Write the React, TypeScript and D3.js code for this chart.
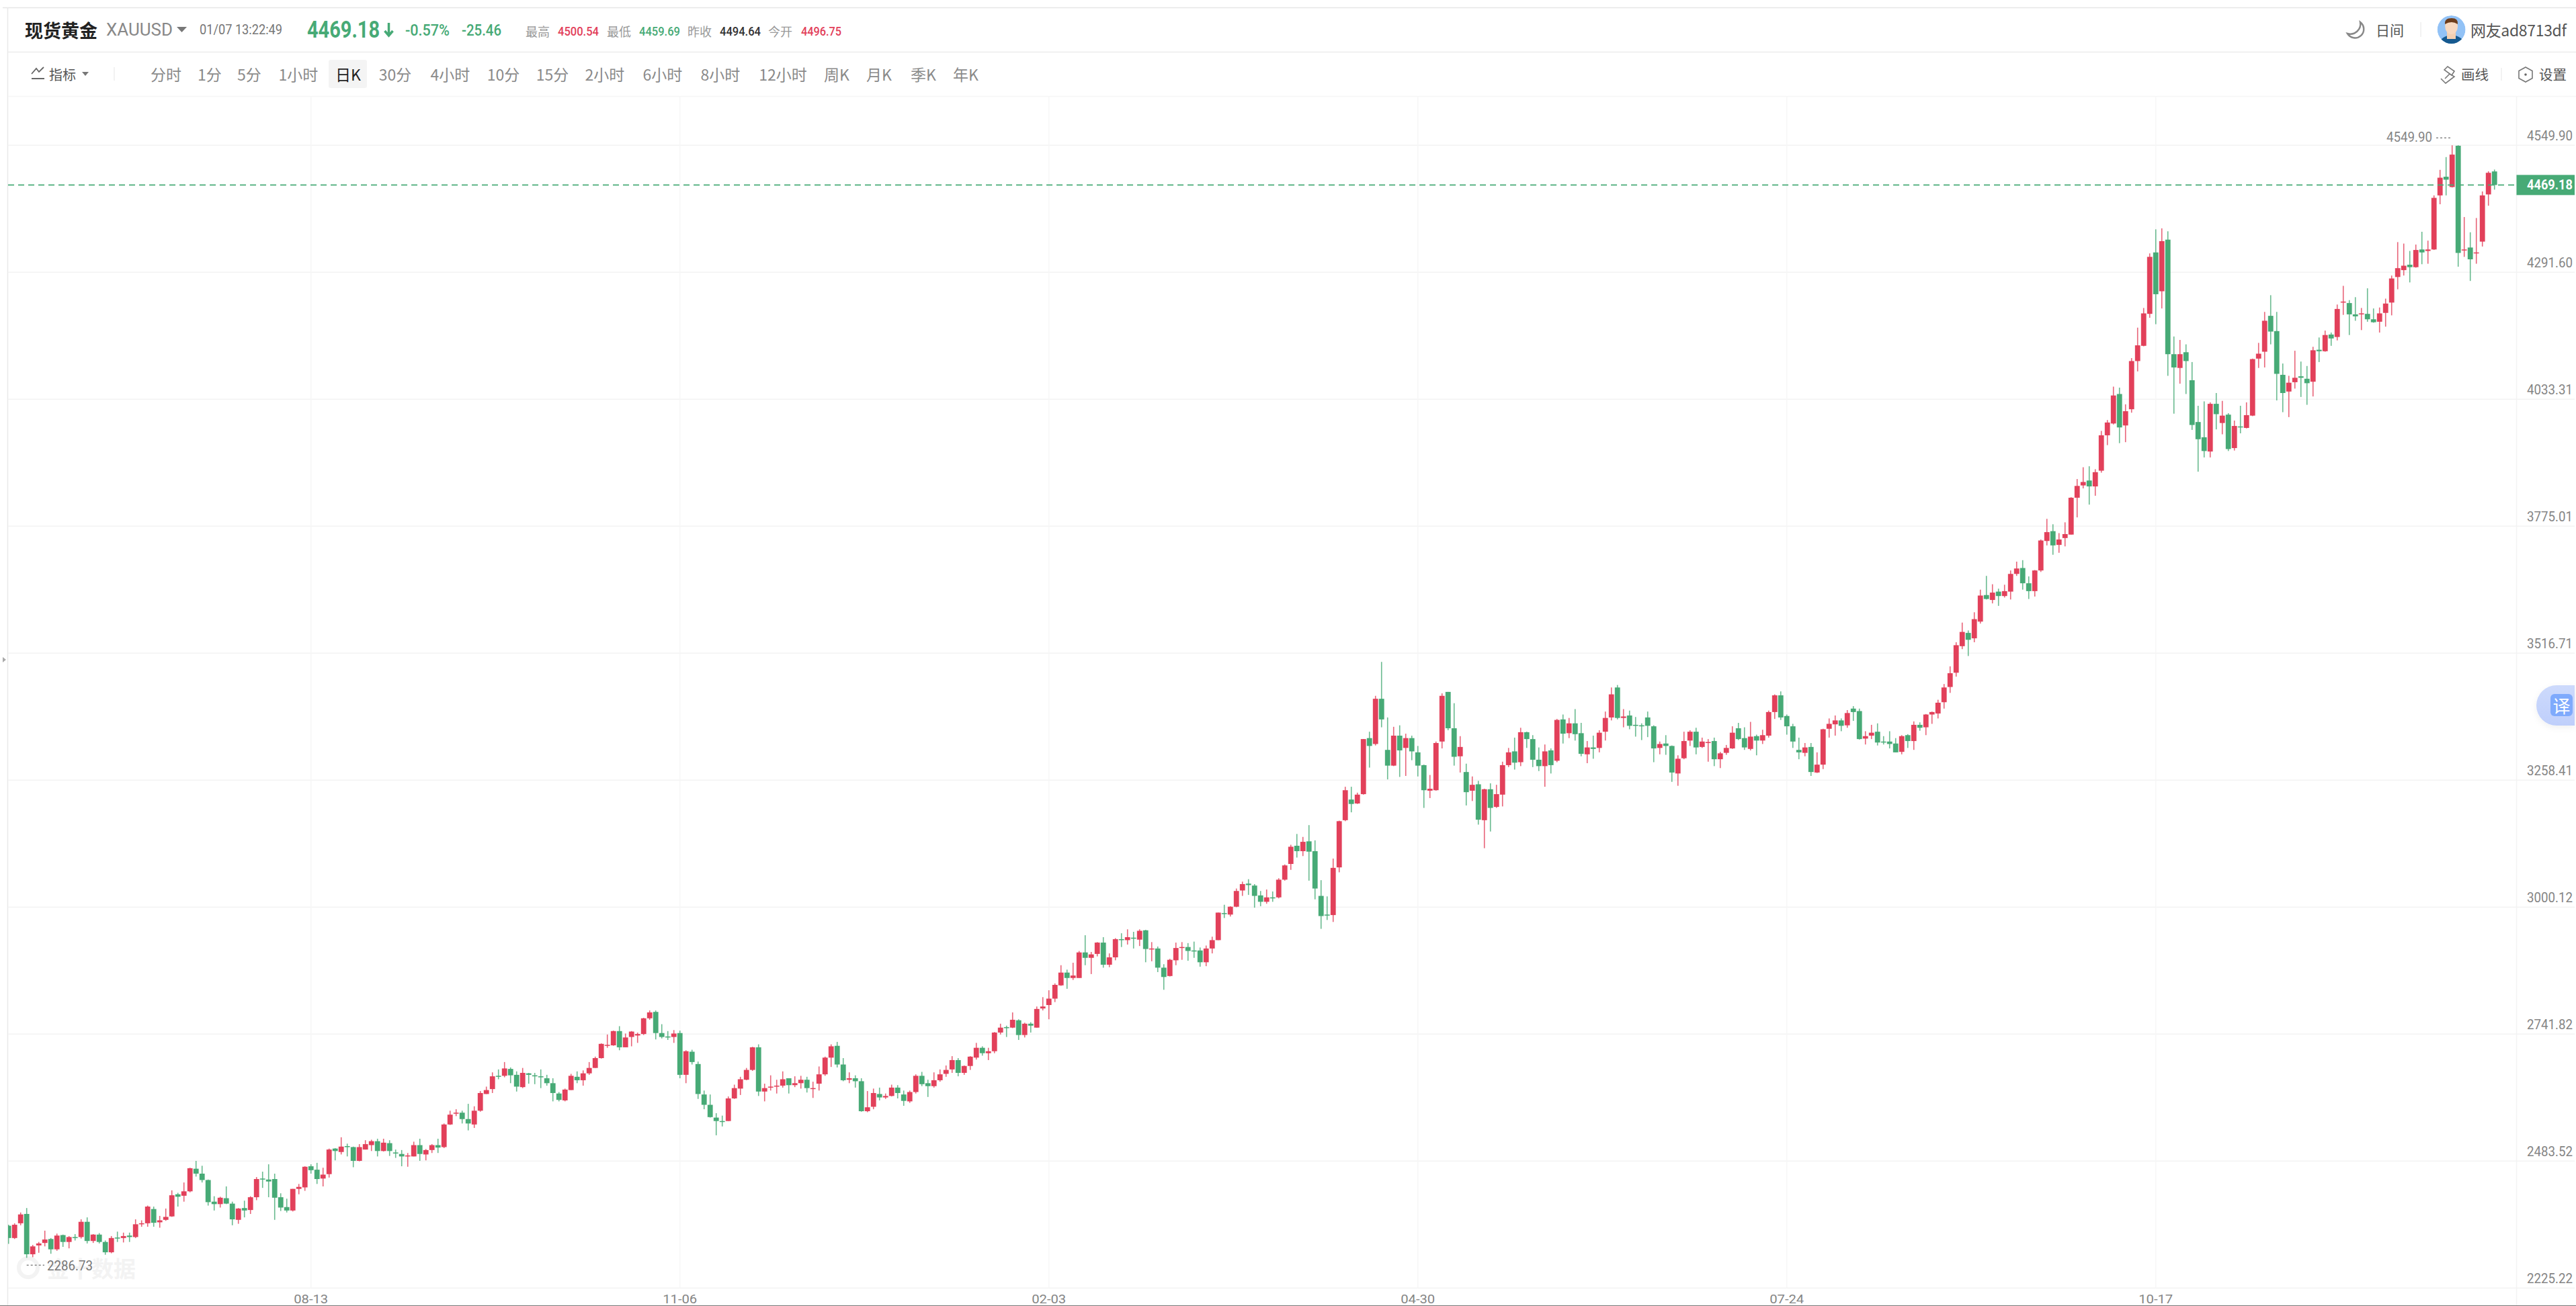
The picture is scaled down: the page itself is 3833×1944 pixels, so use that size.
import React from "react";
import * as d3 from "d3";

type Bar = [number, number, number, number]; // open, high, low, close

const bars2024A: Bar[] = [[2352,2354,2315,2327],[2327,2357,2325,2354],[2357,2379,2353,2375],[2376,2388,2286.73,2294],[2294,2313,2288,2310],[2312,2319,2297,2316],[2317,2342,2310,2324],[2325,2327,2295,2304],[2304,2336,2301,2332],[2333,2334,2309,2319],[2319,2331,2306,2329],[2329,2335,2322,2328],[2329,2365,2326,2360],[2360,2369,2316,2321],[2321,2335,2317,2334],[2334,2337,2316,2319],[2319,2322,2293,2298],[2298,2331,2296,2327],[2328,2340,2319,2327],[2327,2338,2318,2331],[2332,2338,2319,2329],[2329,2365,2327,2355],[2356,2363,2350,2357],[2357,2393,2350,2391],[2386,2391,2350,2358],[2359,2372,2348,2363],[2364,2387,2362,2370],[2371,2424,2370,2414],[2416,2419,2391,2411],[2413,2440,2401,2422],[2422,2470,2420,2469],[2468,2484,2452,2458],[2458,2474,2440,2445],[2445,2446,2393,2400],[2401,2412,2383,2396],[2396,2411,2389,2409],[2408,2432,2396,2397],[2397,2401,2353,2365],[2364,2388,2356,2387],[2388,2403,2369,2383],[2384,2412,2376,2410],[2410,2451,2404,2447],[2448,2462,2429,2447],[2446,2477,2410,2442],[2447,2458,2364,2409],[2410,2418,2382,2389],[2390,2407,2379,2383],[2383,2427,2381,2427],[2427,2437,2416,2431],[2430,2473,2423,2472],[2473,2477,2458,2465],[2466,2480,2437,2447],[2448,2470,2432,2456],[2457,2509,2450,2507],[2509,2510,2485,2504],[2502,2532,2497,2513],[2514,2519,2493,2512],[2512,2513,2471,2484],[2484,2518,2483,2512],[2507,2526,2507,2518],[2516,2527,2504,2524],[2524,2529,2493,2504],[2504,2529,2503,2521],[2520,2526,2494,2504],[2501,2507,2490,2499],[2498,2506,2473,2493],[2493,2500,2472,2495],[2493,2523,2493,2516],[2516,2529,2484,2498],[2497,2508,2485,2506],[2506,2518,2500,2516],[2516,2529,2500,2511],[2512,2560,2510,2558],[2558,2586,2557,2578],[2581,2589,2575,2582],[2582,2586,2560,2569],[2569,2600,2546,2560],[2558,2595,2551,2586],[2586,2626,2584,2622],[2620,2635,2620,2628],[2630,2664,2622,2656],[2657,2670,2650,2656],[2657,2685,2654,2672],[2671,2674,2642,2658],[2659,2666,2625,2635],[2634,2673,2632,2663],[2662,2663,2641,2659],[2658,2663,2640,2657]];

const bars2024B: Bar[] = [[2656,2670,2632,2654],[2652,2659,2637,2642],[2642,2652,2605,2622],[2621,2624,2605,2608],[2607,2631,2605,2629],[2628,2661,2628,2657],[2655,2666,2642,2648],[2648,2668,2637,2662],[2662,2685,2659,2673],[2673,2696,2673,2693],[2693,2723,2692,2722],[2719,2741,2714,2720],[2719,2749,2718,2748],[2748,2758,2709,2715],[2715,2743,2715,2735],[2736,2748,2717,2747],[2739,2745,2724,2742],[2742,2775,2740,2774],[2774,2790,2771,2786],[2787,2790,2731,2744],[2744,2762,2733,2736],[2737,2748,2730,2736],[2736,2750,2724,2743],[2744,2749,2652,2659],[2659,2709,2642,2707],[2706,2710,2680,2685],[2681,2686,2610,2620],[2619,2627,2589,2598],[2598,2619,2572,2573],[2572,2581,2536,2565],[2565,2576,2554,2563],[2565,2615,2565,2611],[2611,2639,2610,2632],[2631,2655,2618,2650],[2649,2673,2648,2669],[2669,2716,2667,2715],[2715,2721,2616,2625],[2625,2641,2605,2632],[2633,2658,2627,2635],[2636,2649,2621,2637],[2637,2666,2633,2650],[2652,2652,2621,2638],[2638,2656,2634,2642],[2642,2657,2631,2649],[2649,2655,2623,2632],[2630,2645,2612,2632],[2641,2676,2627,2660],[2660,2696,2657,2694],[2694,2721,2675,2717],[2718,2726,2674,2680],[2680,2693,2646,2648],[2649,2664,2642,2652],[2652,2658,2633,2646],[2646,2652,2584,2585],[2585,2626,2583,2593],[2594,2631,2589,2622],[2620,2633,2607,2613],[2613,2621,2610,2616],[2616,2639,2615,2633],[2633,2638,2611,2622],[2619,2627,2596,2606],[2605,2627,2602,2624],[2624,2660,2621,2657],[2657,2665,2636,2640],[2642,2649,2614,2636],[2636,2664,2633,2648],[2648,2670,2645,2660],[2661,2678,2655,2669],[2670,2697,2663,2689],[2689,2693,2656,2663],[2663,2678,2659,2677],[2677,2697,2669,2696],[2694,2724,2690,2714],[2714,2717,2698,2703],[2703,2714,2689,2707],[2707,2746,2703,2745],[2745,2763,2741,2755],[2756,2759,2736,2755],[2755,2786,2754,2771],[2770,2772,2730,2740],[2740,2765,2735,2763],[2763,2766,2745,2759],[2755,2798,2755,2793],[2794,2817,2790,2798],[2801,2831,2772,2814],[2814,2845,2807,2842],[2841,2882,2840,2867],[2867,2873,2834,2856],[2856,2887,2852,2861]];

const bars2025A: Bar[] = [[2856,2911,2856,2908],[2908,2943,2882,2897],[2897,2909,2864,2904],[2905,2929,2900,2928],[2928,2939,2877,2883],[2883,2906,2878,2898],[2898,2937,2892,2935],[2935,2947,2919,2933],[2933,2955,2924,2939],[2938,2950,2916,2936],[2934,2955,2921,2952],[2953,2954,2888,2915],[2915,2929,2890,2916],[2916,2920,2868,2877],[2877,2884,2832,2858],[2860,2895,2859,2893],[2892,2928,2882,2917],[2918,2929,2893,2919],[2919,2927,2891,2911],[2912,2930,2897,2911],[2912,2918,2879,2888],[2888,2922,2880,2916],[2916,2940,2906,2933],[2933,2989,2933,2989],[2988,3005,2978,2986],[2985,3002,2981,3001],[3001,3038,3000,3033],[3034,3052,3023,3047],[3048,3057,3025,3045],[3044,3047,2999,3023],[3024,3033,3002,3011],[3011,3036,3007,3020],[3020,3032,3011,3019],[3020,3059,3018,3056],[3056,3087,3054,3085],[3088,3127,3076,3123],[3125,3149,3101,3114],[3114,3143,3104,3133],[3134,3167,3054,3113],[3114,3136,3016,3038],[3023,3055,2956,2982],[2985,3022,2974,2984],[2984,3099,2970,3080],[3081,3176,3071,3175],[3177,3245,3175,3238],[3219,3245,3193,3210],[3211,3233,3210,3229]];

const bars2025B: Bar[] = [[3230,3342,3229,3342],[3344,3357,3284,3328],[3332,3430,3329,3424],[3424,3499,3366,3382],[3320,3386,3260,3288],[3288,3367,3287,3349],[3349,3370,3265,3319],[3324,3353,3267,3344],[3344,3349,3299,3317],[3315,3328,3266,3288],[3289,3290,3202,3238],[3237,3269,3222,3241],[3238,3337,3237,3334],[3337,3435,3323,3430],[3438,3438,3360,3364],[3364,3415,3288,3306],[3307,3348,3274,3326],[3275,3292,3207,3234],[3237,3266,3216,3249],[3250,3257,3168,3178],[3177,3241,3120,3240],[3240,3252,3154,3202],[3204,3249,3202,3230],[3229,3296,3205,3289],[3289,3324,3285,3315],[3317,3345,3280,3294],[3295,3365,3287,3356],[3356,3357,3324,3342],[3342,3350,3285,3300],[3300,3325,3277,3287],[3287,3331,3245,3317],[3319,3323,3272,3289],[3298,3383,3295,3381],[3382,3392,3333,3353],[3354,3385,3344,3374],[3374,3403,3339,3352],[3354,3375,3307,3312],[3311,3338,3293,3325],[3325,3349,3302,3322],[3324,3360,3315,3355],[3357,3398,3339,3385],[3386,3447,3380,3433],[3447,3452,3382,3385],[3385,3403,3366,3388],[3390,3400,3362,3369],[3371,3387,3347,3370],[3370,3374,3340,3369],[3386,3398,3346,3369],[3368,3370,3295,3323],[3324,3337,3311,3332],[3333,3350,3310,3328],[3328,3329,3255,3274],[3272,3309,3247,3302],[3303,3357,3301,3338],[3339,3360,3328,3357],[3357,3365,3311,3325],[3326,3345,3324,3337],[3334,3342,3296,3336],[3338,3345,3287,3301],[3301,3316,3283,3313],[3314,3330,3310,3324],[3323,3368,3322,3355],[3364,3375,3340,3342],[3344,3366,3320,3325],[3322,3377,3319,3347],[3348,3351,3309,3339],[3339,3361,3332,3350],[3349,3400,3345,3397],[3397,3433,3383,3431],[3431,3439,3381,3386],[3389,3392,3351,3368],[3368,3373,3324,3337],[3320,3345,3301,3315],[3314,3334,3307,3325],[3326,3334,3267,3275]];

const bars2025C: Bar[] = [[3274,3315,3273,3290],[3290,3363,3281,3362],[3363,3384,3345,3373],[3372,3390,3349,3380],[3380,3384,3358,3369],[3370,3401,3365,3395],[3404,3409,3379,3397],[3399,3404,3341,3342],[3343,3358,3331,3348],[3349,3371,3342,3355],[3357,3374,3329,3335],[3337,3348,3331,3335],[3337,3358,3323,3332],[3333,3344,3315,3315],[3316,3350,3311,3348],[3350,3352,3324,3338],[3338,3378,3320,3371],[3371,3376,3359,3365],[3366,3393,3350,3392],[3392,3398,3373,3397],[3394,3422,3384,3416],[3417,3454,3404,3447],[3448,3490,3436,3476],[3477,3539,3469,3533],[3531,3579,3525,3560],[3558,3563,3511,3544],[3547,3600,3539,3586],[3581,3646,3577,3634],[3635,3674,3626,3627],[3625,3657,3618,3640],[3642,3648,3613,3633],[3633,3656,3630,3643],[3642,3685,3626,3678],[3678,3703,3674,3689],[3690,3706,3646,3659],[3659,3673,3627,3643],[3643,3686,3632,3685],[3685,3748,3682,3746],[3745,3790,3736,3763],[3765,3779,3717,3736],[3737,3761,3721,3748],[3751,3783,3734,3759],[3758,3834,3758,3833],[3833,3871,3793,3857],[3858,3895,3852,3865],[3868,3897,3819,3856],[3856,3891,3837,3885],[3888,3969,3884,3960],[3960,3991,3940,3986],[3984,4059,3982,4041],[4044,4057,3944,3976],[3980,4023,3946,4009]];

const bars2025D: Bar[] = [[4013,4117,4006,4111],[4111,4179,4090,4143],[4142,4219,4141,4208],[4207,4330,4199,4323],[4332,4379,4186,4247],[4253,4381,4218,4355],[4358,4375,4081,4125],[4125,4161,4004,4098],[4097,4154,4065,4125],[4129,4145,4044,4111],[4072,4109,3971,3981],[3987,4020,3886,3952],[3956,4029,3915,3928],[3927,4027,3915,4024],[4024,4046,3972,4003],[3985,4030,3962,4000],[4002,4005,3928,3932],[3934,3990,3929,3979],[3978,4020,3964,3977],[3975,4027,3974,4001],[4000,4116,3999,4115],[4116,4148,4097,4126],[4130,4211,4098,4193],[4203,4245,4145,4171],[4172,4211,4031,4085],[4083,4106,4007,4046],[4049,4081,3997,4067],[4068,4132,4055,4077],[4080,4110,4038,4077],[4075,4101,4022,4066],[4069,4140,4039,4133],[4134,4159,4109,4131],[4131,4173,4130,4164],[4165,4169,4142,4157],[4160,4226,4153,4217],[4230,4264,4205,4232],[4229,4235,4164,4206],[4206,4241,4193,4202],[4206,4219,4174,4208],[4207,4259,4191,4196],[4196,4218,4189,4190],[4191,4220,4169,4208],[4209,4238,4181,4228],[4230,4285,4204,4279],[4282,4353,4257,4300],[4296,4350,4285,4305],[4307,4335,4271,4302],[4302,4348,4301,4337],[4338,4374,4308,4332],[4335,4356,4309,4338],[4338,4448,4337,4443],[4448,4500,4430,4484],[4486,4526,4448,4480],[4465,4549.9,4464,4531],[4549,4550,4303,4331],[4337,4404,4323,4338],[4342,4373,4274,4318],[4331,4402,4309,4332],[4354,4456,4344,4448],[4450,4497,4427,4494],[4496.75,4500.54,4459.69,4469.18]];

const bars: Bar[] = [...bars2024A, ...bars2024B, ...bars2025A, ...bars2025B, ...bars2025C, ...bars2025D];

const priceTicks = [4549.90, 4291.60, 4033.31, 3775.01, 3516.71, 3258.41, 3000.12, 2741.82, 2483.52, 2225.22];
const dateTicks: [number, string][] = [[50, "08-13"], [111, "11-06"], [172, "02-03"], [233, "04-30"], [294, "07-24"], [355, "10-17"]];
const periods: [string, number][] = [["分时",247],["1分",312],["5分",371],["1小时",444],["日K",518],["30分",588],["4小时",670],["10分",749],["15分",822],["2小时",900],["6小时",986],["8小时",1072],["12小时",1165],["周K",1245],["月K",1308],["季K",1374],["年K",1437]];
const lastPrice = 4469.18;
const maxPrice = 4549.90;
const minPrice = 2286.73;

const RED = "#e2405a";
const GREEN = "#47aa76";
const DIN = "Roboto, 'Noto Sans', sans-serif";
const CJK = "'Noto Sans CJK SC', sans-serif";

const W = 3833, H = 1944;
const x = d3.scaleLinear().domain([0, 411]).range([12.7, 12.7 + 9 * 411]);
const y = d3.scaleLinear().domain([2225.22, 4549.90]).range([1917.3, 216.3]);
const AXIS_X = 3744.5;

const T = (p: any) => {
  const { w, ...rest } = p;
  return <text dominantBaseline="central" fontFamily={DIN} textLength={w} lengthAdjust={w ? "spacingAndGlyphs" : undefined} {...rest} />;
};

export default function App() {
  return (
    <svg width={W} height={H} viewBox={`0 0 ${W} ${H}`} style={{ position: "absolute", left: 0, top: 0, background: "#fff", display: "block" }}>
      <defs>
        <clipPath id="plot"><rect x={12} y={144} width={AXIS_X - 12} height={1800} /></clipPath>
        <clipPath id="avatar"><circle cx={3647.6} cy={44} r={21} /></clipPath>
        <linearGradient id="pill" x1="0" y1="0" x2="0" y2="1"><stop offset="0" stopColor="#cddafc" /><stop offset="1" stopColor="#bfcffb" /></linearGradient>
        <filter id="sh" x="-20%" y="-20%" width="140%" height="140%"><feDropShadow dx="0" dy="3" stdDeviation="5" floodColor="#000" floodOpacity="0.06" /></filter>
      </defs>

      {/* frame */}
      <line x1={4} x2={W} y1={11.5} y2={11.5} stroke="#e6e6e6" strokeWidth={1.5} />
      <line x1={11.5} x2={11.5} y1={11} y2={1943} stroke="#e9e9e9" strokeWidth={1.5} />
      <line x1={12} x2={W} y1={77.5} y2={77.5} stroke="#ececec" strokeWidth={1.5} />
      <line x1={12} x2={W} y1={143.5} y2={143.5} stroke="#f5f5f5" strokeWidth={1.5} />
      <line x1={0} x2={W} y1={1943.5} y2={1943.5} stroke="#777" strokeWidth={1} />
      <polygon points="4,978 9,982 4,986" fill="#aaa" />

      {/* header */}
      <text x={37} y={44} dominantBaseline="central" fontFamily={CJK} fontWeight={700} fontSize={27} fill="#222">现货黄金</text>
      <T x={158} y={44} w={99} fontSize={25} fill="#888">XAUUSD</T>
      <polygon points="263,40 278,40 270.5,48" fill="#777" />
      <T x={297} y={44} w={123} fontSize={20} fill="#777">01/07 13:22:49</T>
      <T x={457} y={44} w={108} fontSize={35} fontWeight={700} fill={GREEN}>4469.18</T>
      <path d="M578.5 34 V52 M572.5 46 L578.5 53 L584.5 46" stroke={GREEN} strokeWidth={3.5} fill="none" />
      <T x={603} y={45} w={66} fontSize={23} fontWeight={500} fill={GREEN}>-0.57%</T>
      <T x={687} y={45} w={59} fontSize={23} fontWeight={500} fill={GREEN}>-25.46</T>
      <text x={782} y={46} dominantBaseline="central" fontFamily={CJK} fontSize={18} fill="#999">最高</text>
      <T x={830} y={46} w={61} fontSize={19} fontWeight={500} fill={RED}>4500.54</T>
      <text x={903} y={46} dominantBaseline="central" fontFamily={CJK} fontSize={18} fill="#999">最低</text>
      <T x={951} y={46} w={61} fontSize={19} fontWeight={500} fill={GREEN}>4459.69</T>
      <text x={1023} y={46} dominantBaseline="central" fontFamily={CJK} fontSize={18} fill="#999">昨收</text>
      <T x={1071} y={46} w={61} fontSize={19} fontWeight={500} fill="#333">4494.64</T>
      <text x={1143} y={46} dominantBaseline="central" fontFamily={CJK} fontSize={18} fill="#999">今开</text>
      <T x={1192} y={46} w={60} fontSize={19} fontWeight={500} fill={RED}>4496.75</T>

      <path d="M3512 33 A13 13 0 1 1 3493 50 A15 15 0 0 0 3512 33 Z" fill="none" stroke="#888" strokeWidth={2.5} />
      <text x={3535} y={44} dominantBaseline="central" fontFamily={CJK} fontSize={21} fill="#555">日间</text>
      <line x1={3602} x2={3602} y1={33} y2={55} stroke="#eee" strokeWidth={1.5} />
      <g clipPath="url(#avatar)">
        <circle cx={3647.6} cy={44} r={21} fill="#92c2f6" />
        <path d="M3629 66 Q3631 54 3648 52 Q3665 54 3667 66 Z" fill="#15598f" />
        <rect x={3641} y={47} width={13} height={11} fill="#f3cfb2" />
        <ellipse cx={3647.6} cy={39} rx={9.5} ry={12} fill="#f7d8c0" />
        <path d="M3638 36 Q3637 27 3648 27 Q3658 27 3657 36 Q3648 30 3638 36 Z" fill="#6d3d1c" />
      </g>
      <text x={3676} y={44} dominantBaseline="central" fontFamily={CJK} fontSize={23} fill="#555" textLength={143} lengthAdjust="spacing">网友ad8713df</text>

      {/* toolbar */}
      <path d="M47 117 H66 M47 110 L54 102 L58 107 L65 100" stroke="#666" strokeWidth={1.8} fill="none" />
      <text x={73} y={110} dominantBaseline="central" fontFamily={CJK} fontSize={20} fill="#555">指标</text>
      <polygon points="122,107 132,107 127,113" fill="#777" />
      <line x1={170} x2={170} y1={100} y2={120} stroke="#eee" strokeWidth={1.5} />
      <rect x={489} y={89} width={57} height={42} rx={3} fill="#f4f4f4" />
      {periods.map(([label, cx]) => (
        <text key={label} x={cx} y={110} textAnchor="middle" dominantBaseline="central" fontFamily={CJK} fontSize={23} fill={label === "日K" ? "#222" : "#8a8a8a"}>{label}</text>
      ))}
      <path d="M3632 117 L3639 124 L3652 114 L3645 110 L3638 117 M3637 104 L3642 99 L3652 106 L3648 112 Z" stroke="#777" strokeWidth={1.6} fill="none" />
      <text x={3662} y={110} dominantBaseline="central" fontFamily={CJK} fontSize={20.5} fill="#555">画线</text>
      <line x1={3722} x2={3722} y1={101} y2={120} stroke="#eee" strokeWidth={1.5} />
      <polygon points="3758,100 3768,105.5 3768,116.5 3758,122 3748,116.5 3748,105.5" fill="none" stroke="#777" strokeWidth={1.6} />
      <circle cx={3758} cy={111} r={1.8} fill="#666" />
      <text x={3778} y={110} dominantBaseline="central" fontFamily={CJK} fontSize={20.5} fill="#555">设置</text>

      {/* watermark */}
      <circle cx={42} cy={1887} r={14} fill="none" stroke="#f3f3f3" strokeWidth={6} />
      <text x={70} y={1887} dominantBaseline="central" fontFamily={CJK} fontWeight={700} fontSize={33} fill="#f3f3f3">金十数据</text>

      {/* grid */}
      {priceTicks.map(p => (
        <line key={p} x1={12} x2={3831} y1={y(p)} y2={y(p)} stroke="#f3f3f3" strokeWidth={1.5} />
      ))}
      {dateTicks.map(([k]) => (
        <line key={k} x1={x(k)} x2={x(k)} y1={144} y2={y(2225.22)} stroke="#f6f6f6" strokeWidth={1.5} />
      ))}
      <line x1={AXIS_X} x2={AXIS_X} y1={144} y2={1943} stroke="#f3f3f3" strokeWidth={1.5} />

      {/* candles */}
      <g clipPath="url(#plot)">
        {bars.map((b, i) => {
          const [o, h, l, c] = b;
          const col = c >= o ? RED : GREEN;
          const top = y(Math.max(o, c));
          const bot = y(Math.min(o, c));
          return (
            <g key={i}>
              <line x1={x(i)} x2={x(i)} y1={y(h)} y2={y(l)} stroke={col} strokeWidth={1.6} opacity={0.82} />
              <rect x={x(i) - 3.9} width={7.8} y={top} height={Math.max(bot - top, 1.5)} fill={col} />
            </g>
          );
        })}
      </g>

      {/* last price */}
      <line x1={12} x2={AXIS_X} y1={y(lastPrice)} y2={y(lastPrice)} stroke={GREEN} strokeWidth={1.6} strokeDasharray="9 6" />
      <rect x={AXIS_X} y={y(lastPrice) - 15} width={3831 - AXIS_X} height={30} fill={GREEN} />
      <T x={3760} y={y(lastPrice)} w={68} fontSize={21} fontWeight={700} fill="#fff">4469.18</T>

      {/* axis labels */}
      {priceTicks.map(p => (
        <T key={p} x={3760} y={y(p) - 14} w={68} fontSize={20} fill="#858585">{p.toFixed(2)}</T>
      ))}
      {dateTicks.map(([k, label]) => (
        <T key={label} x={x(k)} y={1933} textAnchor="middle" w={51} fontSize={19} fill="#858585">{label}</T>
      ))}

      {/* extremes */}
      <T x={3551} y={y(maxPrice) - 12} w={68} fontSize={20} fill="#858585">{maxPrice.toFixed(2)}</T>
      <line x1={3625} x2={x(404) - 1} y1={y(maxPrice) - 11} y2={y(maxPrice) - 11} stroke="#888" strokeWidth={1.5} strokeDasharray="3 3" />
      <T x={70} y={y(minPrice) + 12} w={68} fontSize={20} fill="#777">{minPrice.toFixed(2)}</T>
      <line x1={x(3)} x2={66} y1={y(minPrice) + 11} y2={y(minPrice) + 11} stroke="#888" strokeWidth={1.5} strokeDasharray="3 3" />

      {/* translate pill */}
      <path d="M3831 1020 H3804 A30 30 0 0 0 3804 1080 H3831 Z" fill="url(#pill)" filter="url(#sh)" />
      <rect x={3795} y={1033} width={33} height={33} rx={6} fill="#7faafc" />
      <text x={3811.5} y={1049.5} textAnchor="middle" dominantBaseline="central" fontFamily={CJK} fontSize={26} fill="#fff">译</text>
    </svg>
  );
}
